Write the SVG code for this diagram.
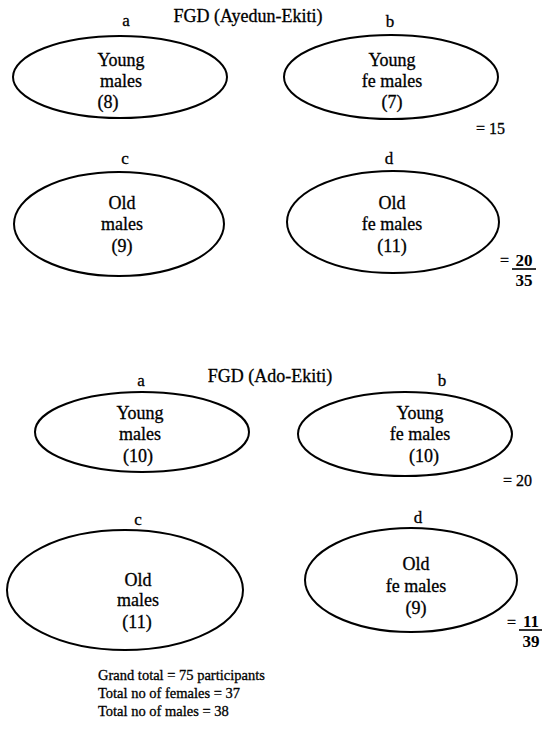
<svg xmlns="http://www.w3.org/2000/svg" width="542" height="729" viewBox="0 0 542 729">
<style>
text{font-family:"Liberation Serif","Times New Roman",serif;font-size:18px;fill:#000;text-anchor:middle;stroke:#000;stroke-width:0.3}
.l{text-anchor:start}
.s{font-size:17px}
.e{font-size:16px}
.f{font-size:14.5px}
.b{font-weight:bold;stroke-width:0;font-size:17px}
ellipse{fill:none;stroke:#000;stroke-width:2}
line{stroke:#000;stroke-width:1.6}
</style>
<rect width="542" height="729" fill="#fff"/>
<g id="section1">
<text x="248" y="22">FGD (Ayedun-Ekiti)</text>
<g id="node-a1"><text class="s" x="126" y="26">a</text><ellipse cx="120" cy="77" rx="107" ry="41"/><text x="121" y="66">Young</text><text x="121" y="87">males</text><text x="108" y="108">(8)</text></g>
<g id="node-b1"><text class="s" x="390" y="27">b</text><ellipse cx="391" cy="77" rx="107" ry="42"/><text x="392" y="66">Young</text><text x="392" y="87">fe males</text><text x="392" y="108">(7)</text></g>
<text class="l e" x="476" y="134">= 15</text>
<g id="node-c1"><text class="s" x="125" y="164">c</text><ellipse cx="119" cy="224" rx="105" ry="52"/><text x="122" y="209">Old</text><text x="122" y="230">males</text><text x="122" y="252">(9)</text></g>
<g id="node-d1"><text class="s" x="389" y="164">d</text><ellipse cx="393" cy="222" rx="106" ry="51"/><text x="392" y="209">Old</text><text x="392" y="230">fe males</text><text x="392" y="252">(11)</text></g>
<text class="l e" x="500" y="266">=</text><text class="b" x="524" y="266">20</text><line x1="512" y1="269" x2="536" y2="269"/><text class="b" x="524" y="286">35</text>
</g>
<g id="section2">
<text x="270" y="382">FGD (Ado-Ekiti)</text>
<g id="node-a2"><text class="s" x="141" y="386">a</text><ellipse cx="142" cy="432" rx="107" ry="40"/><text x="140" y="419">Young</text><text x="140" y="440">males</text><text x="138" y="462">(10)</text></g>
<g id="node-b2"><text class="s" x="442" y="386">b</text><ellipse cx="405" cy="434" rx="107" ry="42"/><text x="420" y="419">Young</text><text x="420" y="440">fe males</text><text x="424" y="462">(10)</text></g>
<text class="l e" x="503" y="486">= 20</text>
<g id="node-c2"><text class="s" x="138" y="525">c</text><ellipse cx="125" cy="590" rx="118" ry="60"/><text x="138" y="586">Old</text><text x="138" y="606">males</text><text x="137" y="628">(11)</text></g>
<g id="node-d2"><text class="s" x="418" y="523">d</text><ellipse cx="411" cy="580" rx="106" ry="52"/><text x="416" y="570">Old</text><text x="416" y="592">fe males</text><text x="416" y="614">(9)</text></g>
<text class="l e" x="507" y="628">=</text><text class="b" x="531" y="627">11</text><line x1="519" y1="630" x2="542" y2="630"/><text class="b" x="531" y="647">39</text>
<text class="l f" x="98" y="680">Grand total = 75 participants</text>
<text class="l f" x="98" y="698">Total no of females = 37</text>
<text class="l f" x="98" y="716">Total no of males = 38</text>
</g>
</svg>
